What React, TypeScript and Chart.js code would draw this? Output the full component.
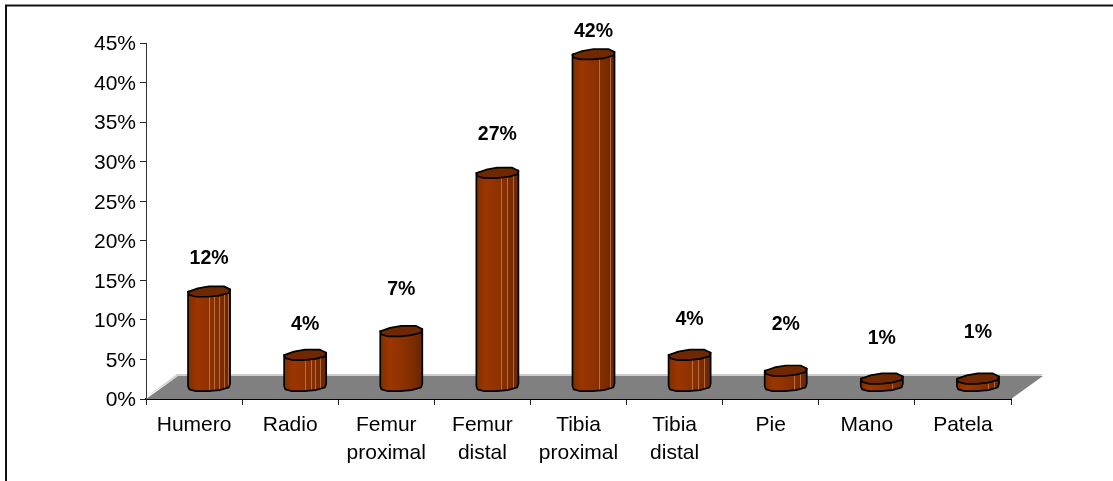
import React, { useEffect, useRef } from "react";
import { Chart, registerables, Plugin } from "chart.js";

Chart.register(...registerables);

const categories: (string | string[])[] = [
  "Humero",
  "Radio",
  ["Femur", "proximal"],
  ["Femur", "distal"],
  ["Tibia", "proximal"],
  ["Tibia", "distal"],
  "Pie",
  "Mano",
  "Patela",
];
const percentages = [12, 4, 7, 27, 42, 4, 2, 1, 1];
const tickStep = 5;
const tickMax = 45;

// Height of each value label above its bar's value line, in pixels.
const labelRise = [45, 43, 54, 51, 35, 48, 59, 52, 58];
// Highlight streaks on each column, as fractions of its width.
const streaks: number[][] = [
  [0.5, 0.62, 0.74, 0.85, 0.94],
  [0.5, 0.63, 0.74, 0.86],
  [],
  [0.58, 0.72, 0.88],
  [0.62, 0.9],
  [0.55, 0.7, 0.85],
  [0.7, 0.85],
  [0.75],
  [0.75, 0.88],
];

const FONT = '"Liberation Sans", Arial, sans-serif';
const FLOOR_DX = 32;
const FLOOR_DY = 23;
const COLUMN_DX = 15;
const COLUMN_DY = 12.5;

// Slightly irregular outline of a column's cap, clockwise from the left edge.
const capOutline: [number, number][] = [
  [-1, 0.05],
  [-0.54, -0.62],
  [0, -1],
  [0.71, -1],
  [1, -0.42],
  [0.94, 0.28],
  [0.49, 0.78],
  [-0.06, 1],
  [-0.62, 1],
  [-0.94, 0.64],
];
const CAP_RY = 5.2;

function capPath(cx: number, cy: number, rx: number): Path2D {
  const path = new Path2D();
  capOutline.forEach(([u, v], i) => {
    const x = cx + u * rx;
    const y = cy + v * CAP_RY;
    if (i === 0) path.moveTo(x, y);
    else path.lineTo(x, y);
  });
  path.closePath();
  return path;
}

// Column body: left and right edges joined by the front half of the base outline.
function bodyPath(cx: number, topY: number, baseY: number, rx: number): Path2D {
  const path = new Path2D();
  path.moveTo(cx - rx, topY);
  path.lineTo(cx - rx, baseY + capOutline[0][1] * CAP_RY);
  for (let k = capOutline.length - 1; k >= 4; k--) {
    path.lineTo(cx + capOutline[k][0] * rx, baseY + capOutline[k][1] * CAP_RY);
  }
  path.lineTo(cx + rx, topY + capOutline[4][1] * CAP_RY);
  path.closePath();
  return path;
}

const cylinderPlugin: Plugin<"bar"> = {
  id: "cylinders",
  beforeDatasetsDraw(chart) {
    const { ctx, chartArea } = chart;
    const { left, right, bottom } = chartArea;
    const top = bottom - FLOOR_DY;
    ctx.save();
    // Pale rim along the back and left of the floor.
    ctx.fillStyle = "#cfcfcf";
    ctx.beginPath();
    ctx.moveTo(left - 1, bottom - 1);
    ctx.lineTo(left + FLOOR_DX - 1, top - 2);
    ctx.lineTo(right + FLOOR_DX, top - 2);
    ctx.lineTo(right + FLOOR_DX - 2, top);
    ctx.lineTo(left + FLOOR_DX, top);
    ctx.closePath();
    ctx.fill();
    ctx.fillStyle = "#808080";
    ctx.beginPath();
    ctx.moveTo(left, bottom);
    ctx.lineTo(left + FLOOR_DX, top);
    ctx.lineTo(right + FLOOR_DX, top);
    ctx.lineTo(right, bottom);
    ctx.closePath();
    ctx.fill();
    ctx.restore();
  },
  afterDatasetsDraw(chart) {
    const { ctx } = chart;
    const meta = chart.getDatasetMeta(0);
    ctx.save();
    meta.data.forEach((el: any, i: number) => {
      const cx = el.x + COLUMN_DX;
      const rx = el.width / 2;
      const topY = el.y - COLUMN_DY;
      const baseY = el.base - COLUMN_DY;

      const side = ctx.createLinearGradient(cx - rx, 0, cx + rx, 0);
      side.addColorStop(0, "#7f2e00");
      side.addColorStop(0.22, "#9c3600");
      side.addColorStop(0.42, "#933300");
      side.addColorStop(0.72, "#832e00");
      side.addColorStop(1, "#692600");

      const body = bodyPath(cx, topY, baseY, rx);
      ctx.fillStyle = side;
      ctx.fill(body);

      // Facet highlights, clipped to the column body.
      ctx.save();
      ctx.clip(body);
      ctx.strokeStyle = "rgba(235,170,130,0.5)";
      ctx.lineWidth = 1;
      streaks[i].forEach((f) => {
        const x = Math.round(cx - rx + f * 2 * rx) + 0.5;
        ctx.beginPath();
        ctx.moveTo(x, topY);
        ctx.lineTo(x, baseY + CAP_RY);
        ctx.stroke();
      });
      ctx.restore();

      ctx.strokeStyle = "#000000";
      ctx.lineWidth = 1.7;
      ctx.lineJoin = "round";
      ctx.stroke(body);

      const cap = capPath(cx, topY, rx);
      ctx.fillStyle = "#702800";
      ctx.fill(cap);
      ctx.stroke(cap);

      ctx.fillStyle = "#000000";
      ctx.font = `bold 19.5px ${FONT}`;
      ctx.textAlign = "center";
      ctx.textBaseline = "middle";
      ctx.fillText(`${percentages[i]}%`, cx, el.y - labelRise[i]);
    });
    ctx.restore();
  },
  afterDraw(chart) {
    // Frame along the top and left of the figure.
    const { ctx, width, height } = chart;
    ctx.save();
    ctx.strokeStyle = "#111111";
    ctx.lineWidth = 2;
    ctx.beginPath();
    ctx.moveTo(6, height);
    ctx.lineTo(6, 5.5);
    ctx.lineTo(width, 5.5);
    ctx.stroke();
    ctx.restore();
  },
};

export default function App() {
  const ref = useRef<HTMLCanvasElement>(null);

  useEffect(() => {
    const chart = new Chart(ref.current!, {
      type: "bar",
      data: {
        labels: categories as any,
        datasets: [
          {
            data: percentages,
            backgroundColor: "rgba(0,0,0,0)",
            borderWidth: 0,
            barPercentage: 1,
            categoryPercentage: 42 / 96,
          },
        ],
      },
      options: {
        responsive: false,
        animation: false,
        layout: { padding: { top: 43, right: 102, left: 0, bottom: 0 } },
        plugins: { legend: { display: false }, tooltip: { enabled: false } },
        scales: {
          x: {
            grid: { drawOnChartArea: false, color: "#222222", tickLength: 6, lineWidth: 1 },
            border: { color: "#000000", width: 2 },
            ticks: {
              color: "#000000",
              font: { family: FONT, size: 21, lineHeight: 1.33 },
              maxRotation: 0,
              autoSkip: false,
              padding: 6,
            },
            afterFit(scale: any) {
              scale.height = 82;
            },
          },
          y: {
            min: 0,
            max: tickMax,
            grid: { drawOnChartArea: false, color: "#222222", tickLength: 6, lineWidth: 1 },
            border: { color: "#333333", width: 1 },
            ticks: {
              stepSize: tickStep,
              color: "#000000",
              font: { family: FONT, size: 21 },
              padding: 4,
              labelOffset: 1.5,
              callback: (v: any) => `${v}%`,
            },
            afterFit(scale: any) {
              scale.width = 146;
            },
          },
        },
      },
      plugins: [cylinderPlugin],
    });
    return () => chart.destroy();
  }, []);

  return (
    <div style={{ position: "absolute", left: 0, top: 0, width: 1113, height: 481, background: "#ffffff" }}>
      <canvas ref={ref} width={1113} height={481} style={{ display: "block" }} />
    </div>
  );
}
